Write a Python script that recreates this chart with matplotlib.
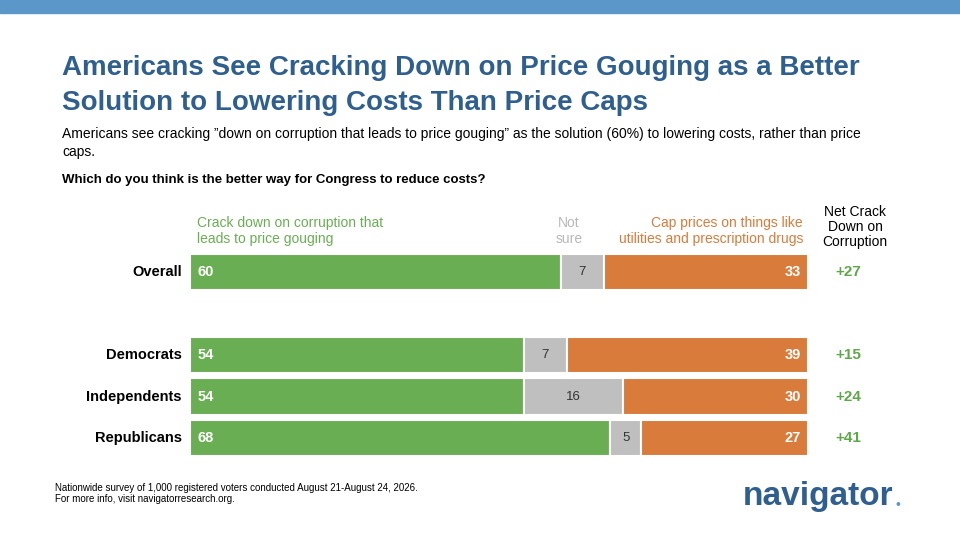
import matplotlib
matplotlib.use("Agg")
import matplotlib.pyplot as plt

plt.rcParams['font.family'] = ['Liberation Sans', 'DejaVu Sans']

groups = ["Overall", "Democrats", "Independents", "Republicans"]
crack = [60, 54, 54, 68]
notsure = [7, 7, 16, 5]
cap = [33, 39, 30, 27]
net = ["+27", "+15", "+24", "+41"]
positions = [0, 2, 3, 4]

GREEN = "#6aae53"; GRAY = "#bfbfbf"; ORANGE = "#d97b3a"; BLUE = "#2f5f8f"; NETG = "#5fa84a"

fig = plt.figure(figsize=(9.6, 5.4), dpi=100)
bg = fig.add_axes([0, 0, 1, 1]); bg.set_xlim(0, 960); bg.set_ylim(540, 0); bg.axis("off")
bg.add_patch(plt.Rectangle((0, 0), 960, 13, color="#5b98c9"))
bg.text(62, 68, "Americans See Cracking Down on Price Gouging as a Better", fontsize=20, fontweight="bold", color=BLUE, va="center")
bg.text(62, 103, "Solution to Lowering Costs Than Price Caps", fontsize=20, fontweight="bold", color=BLUE, va="center")
bg.text(62, 134, "Americans see cracking \u201ddown on corruption that leads to price gouging\u201d as the solution (60%) to lowering costs, rather than price", fontsize=10, va="center")
bg.text(62, 152, "caps.", fontsize=10, va="center")
bg.text(62, 180, "Which do you think is the better way for Congress to reduce costs?", fontsize=9.5, fontweight="bold", va="center")
bg.text(197, 231, "Crack down on corruption that\nleads to price gouging", fontsize=10, color=GREEN, va="center", linespacing=1.1)
bg.text(569, 231, "Not\nsure", fontsize=10, color="#b8b8b8", va="center", ha="center", linespacing=1.1)
bg.text(803, 231, "Cap prices on things like\nutilities and prescription drugs", fontsize=10, color=ORANGE, va="center", ha="right", linespacing=1.1)
bg.text(855, 227, "Net Crack\nDown on\nCorruption", fontsize=10, va="center", ha="center", linespacing=1.1)
bg.text(55, 488, "Nationwide survey of 1,000 registered voters conducted August 21-August 24, 2026.", fontsize=7, va="center")
bg.text(55, 499, "For more info, visit navigatorresearch.org.", fontsize=7, va="center")
bg.text(743, 497, "navigator", fontsize=24, fontweight="bold", color=BLUE, va="center")
bg.text(896, 505, "\u2022", fontsize=10, color="#5b98c9", va="center")

ax = fig.add_axes([190/960, 1-458.75/540, 618/960, 207.5/540])
ax.set_xlim(0, 100); ax.set_ylim(4.5, -0.5); ax.axis("off")
h = 0.87
for i, p in enumerate(positions):
    ax.barh(p, crack[i], height=h, color=GREEN, edgecolor="white", linewidth=1.5)
    ax.barh(p, notsure[i], left=crack[i], height=h, color=GRAY, edgecolor="white", linewidth=1.5)
    ax.barh(p, cap[i], left=crack[i]+notsure[i], height=h, color=ORANGE, edgecolor="white", linewidth=1.5)
    ax.text(1.2, p, str(crack[i]), color="white", fontsize=10.5, fontweight="bold", va="center")
    ax.text(crack[i]+notsure[i]/2, p, str(notsure[i]), color="#333333", fontsize=9.5, va="center", ha="center")
    ax.text(98.8, p, str(cap[i]), color="white", fontsize=10.5, fontweight="bold", va="center", ha="right")
    ax.text(-1.3, p, groups[i], fontsize=10.5, fontweight="bold", va="center", ha="right")
    ax.text(106.5, p, net[i], fontsize=11, fontweight="bold", color=NETG, va="center", ha="center")

fig.savefig("out.png", dpi=100)
